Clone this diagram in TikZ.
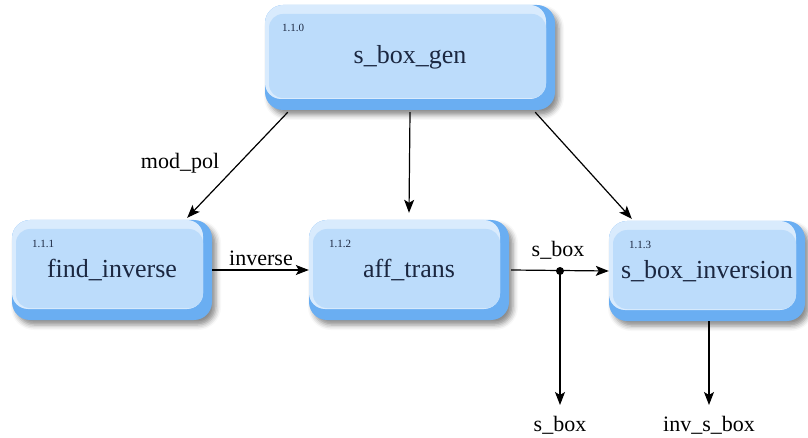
\documentclass[tikz,border=0pt]{standalone}
\usepackage{fontspec}
\setmainfont{Liberation Serif}
\usetikzlibrary{arrows.meta,shadows.blur,calc}

\definecolor{boxedge}{HTML}{6AAEF2}
\definecolor{boxface}{HTML}{BCDCFB}
\definecolor{boxlight}{HTML}{D9EBFD}
\definecolor{boxtext}{HTML}{1B2740}

\tikzset{
  procbox/.style={
    rectangle, rounded corners=18pt, fill=boxedge, draw=none,
    minimum width=200pt, minimum height=100pt, inner sep=0pt,
    font=\fontsize{26}{30}\selectfont, text=boxtext,
    blur shadow={shadow xshift=4pt, shadow yshift=-5pt,
                 shadow blur radius=5pt, shadow opacity=45},
    path picture={
      \fill[boxlight, rounded corners=16pt]
        (path picture bounding box.north west) rectangle
        ([xshift=-9pt,yshift=11pt]path picture bounding box.south east);
      \fill[boxface, rounded corners=14pt]
        ([xshift=4pt,yshift=-9pt]path picture bounding box.north west) rectangle
        ([xshift=-9pt,yshift=12pt]path picture bounding box.south east);
    }},
  numlabel/.style={anchor=north west, inner sep=0pt,
    font=\fontsize{11}{13}\selectfont, text=boxtext},
  flowlabel/.style={inner sep=0pt, font=\fontsize{22}{26}\selectfont},
  flow/.style={line width=1.2pt, -{Stealth[length=13pt,width=10pt,inset=3pt]}},
}

\begin{document}
\begin{tikzpicture}[x=1pt,y=-1pt]
  \useasboundingbox (0,0) rectangle (808,438);

  % process boxes
  \node[procbox, minimum width=290pt, minimum height=105pt] (gen) at (410,57.5) {s\_box\_gen};
  \node[procbox] (fi)  at (112,270) {find\_inverse};
  \node[procbox] (aff) at (409,270) {aff\_trans};
  \node[procbox, minimum width=196pt] (sbi) at (707,271) {s\_box\_inversion};

  % process numbers
  \node[numlabel] (n0) at ([xshift=17pt,yshift=-19pt]gen.north west) {1.1.0};
  \node[numlabel] (n1) at ([xshift=20pt,yshift=-20pt]fi.north west) {1.1.1};
  \node[numlabel] (n2) at ([xshift=20pt,yshift=-20pt]aff.north west) {1.1.2};
  \node[numlabel] (n3) at ([xshift=20pt,yshift=-20pt]sbi.north west) {1.1.3};

  % junction and free ends
  \fill (560,271) circle (4pt);
  \coordinate (split) at (560,271);
  \coordinate (sboxend) at (560,405);
  \coordinate (invend) at (709,405);

  % data flows
  \draw[flow] ([xshift=23pt,yshift=-2pt]gen.south west) -- ([xshift=-25pt,yshift=2pt]fi.north east);
  \draw[flow] ([yshift=-2pt]gen.south) -- ([yshift=7pt]aff.north);
  \draw[flow] ([xshift=-20pt,yshift=-2pt]gen.south east) -- ([xshift=23pt,yshift=2pt]sbi.north west);
  \draw[flow] (fi.east) -- (aff.west);
  \draw[flow] ([xshift=2pt]aff.east) -- (sbi.west);
  \draw[flow] (split) -- (sboxend);
  \draw[flow] ([xshift=2pt]sbi.south) -- (invend);

  % flow labels
  \node[flowlabel] (l1) at (180,163) {mod\_pol};
  \node[flowlabel] (l2) at (261,258) {inverse};
  \node[flowlabel] (l3) at (558,250) {s\_box};
  \node[flowlabel] (l4) at (560,425) {s\_box};
  \node[flowlabel] (l5) at (709,425) {inv\_s\_box};
\end{tikzpicture}
\end{document}
